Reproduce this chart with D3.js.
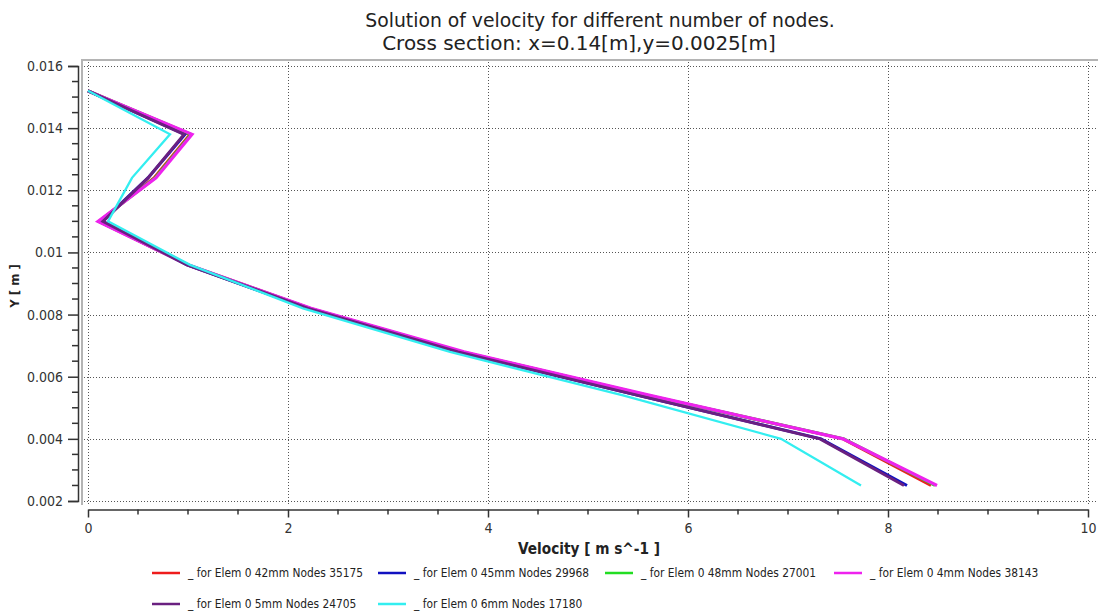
<!DOCTYPE html>
<html>
<head>
<meta charset="utf-8">
<script src="https://cdn.jsdelivr.net/npm/d3@7"></script>
<style>
  html, body { margin: 0; padding: 0; background: #fff; }
  svg { display: block; }
  .tick-label { font-family: "DejaVu Sans Condensed", "Liberation Sans", Arial, sans-serif; font-size: 14px; fill: #333; }
</style>
</head>
<body>
<svg id="chart" width="1098" height="613"></svg>
<script>
// Y positions of the sampled points along the cross section [m]
const yPositions = [0.0152, 0.0138, 0.0124, 0.0110, 0.0096, 0.0082, 0.0068, 0.0054, 0.0040, 0.0025];

// Velocity profiles [m/s], one per mesh
const velElem42 = [0, 1.02, 0.66, 0.11, 1.00, 2.22, 3.74, 5.60, 7.55, 8.43];
const velElem45 = [0, 0.97, 0.60, 0.14, 0.99, 2.20, 3.70, 5.50, 7.33, 8.19];
const velElem48 = [0, 1.03, 0.67, 0.11, 1.00, 2.22, 3.74, 5.60, 7.56, 8.47];
const velElem4  = [0, 1.04, 0.68, 0.10, 1.00, 2.23, 3.76, 5.62, 7.55, 8.49];
const velElem5  = [0, 0.96, 0.60, 0.15, 0.99, 2.20, 3.70, 5.50, 7.32, 8.16];
const velElem6  = [0, 0.82, 0.44, 0.20, 1.02, 2.15, 3.62, 5.35, 6.93, 7.73];

const seriesNames = [
  "_ for Elem 0 42mm Nodes 35175",
  "_ for Elem 0 45mm Nodes 29968",
  "_ for Elem 0 48mm Nodes 27001",
  "_ for Elem 0 4mm Nodes 38143",
  "_ for Elem 0 5mm Nodes 24705",
  "_ for Elem 0 6mm Nodes 17180"
];
const seriesValues = [velElem42, velElem45, velElem48, velElem4, velElem5, velElem6];
const seriesColors = ["#ee1c1c", "#1010c0", "#22dd22", "#ee22ee", "#6a2080", "#33eef0"];
const seriesWidths = [3, 3, 3, 3.2, 3, 2.3];

const xTicks = [0, 2, 4, 6, 8, 10];
const yTicks = [0.002, 0.004, 0.006, 0.008, 0.01, 0.012, 0.014, 0.016];

const titleLines = ["Solution of velocity for different number of nodes.", "Cross section: x=0.14[m],y=0.0025[m]"];
const xTitle = "Velocity [ m s^-1 ]";
const yTitle = "Y [ m ]";

const svg = d3.select("#chart");

// Scales: 0..10 m/s across, 0.002..0.016 m up
const x = d3.scaleLinear().domain([0, 10]).range([88, 1088]);
const y = d3.scaleLinear().domain([0.002, 0.016]).range([501, 66]);

// plot frame limits (the grid runs slightly past the axes)
const frameLeft = 82, frameTop = 60, frameRight = 1098, frameBottom = 505;

// scale a text element's font so its width fits a given length
function fitWidth(sel, width) {
  const fs = parseFloat(sel.attr("font-size"));
  const w = sel.node().getComputedTextLength();
  if (w > 0) sel.attr("font-size", (fs * width / w).toFixed(2));
  return sel;
}

// grid
const grid = svg.append("g");
grid.selectAll("line.gx").data(xTicks).join("line")
  .attr("x1", d => x(d) + 0.5).attr("x2", d => x(d) + 0.5)
  .attr("y1", frameTop + 2).attr("y2", frameBottom - 1)
  .attr("stroke", "#555").attr("stroke-width", 1).attr("stroke-dasharray", "1,2");
grid.selectAll("line.gy").data(yTicks).join("line")
  .attr("y1", d => Math.round(y(d)) + 0.5).attr("y2", d => Math.round(y(d)) + 0.5)
  .attr("x1", frameLeft + 2).attr("x2", frameRight)
  .attr("stroke", "#555").attr("stroke-width", 1).attr("stroke-dasharray", "1,2");

// frame (top and left edges)
svg.append("path")
  .attr("d", `M${frameLeft},${frameBottom} V${frameTop} H${frameRight}`)
  .attr("fill", "none").attr("stroke", "#b4b4b4").attr("stroke-width", 2);

// series lines
const line = d3.line().x(d => x(d[0])).y(d => y(d[1]));
const linesG = svg.append("g");
seriesValues.forEach((vals, i) => {
  linesG.append("path")
    .datum(vals.map((v, k) => [v, yPositions[k]]))
    .attr("d", line)
    .attr("fill", "none")
    .attr("stroke", seriesColors[i])
    .attr("stroke-width", seriesWidths[i])
    .attr("stroke-linejoin", "miter");
});

// Y axis (left, outside the frame)
const yAxis = d3.axisLeft(y).tickValues(yTicks).tickSize(10).tickPadding(5)
  .tickFormat(d => d3.format("")(+d.toFixed(3)));
const yAxisG = svg.append("g").attr("transform", "translate(78,0)").call(yAxis);
yAxisG.select(".domain").attr("stroke", "#333").attr("stroke-width", 1.5);
yAxisG.selectAll(".tick line").attr("stroke", "#333").attr("stroke-width", 1.5);
yAxisG.selectAll(".tick text").attr("class", "tick-label").attr("fill", "#333");
const yMinor = d3.range(0.002, 0.01601, 0.0005).filter(v => Math.abs(v * 500 - Math.round(v * 500)) > 1e-6);
yAxisG.selectAll("line.minor").data(yMinor).join("line")
  .attr("x1", 0).attr("x2", -6)
  .attr("y1", d => y(d)).attr("y2", d => y(d))
  .attr("stroke", "#333").attr("stroke-width", 1.5);

// X axis (below the frame)
const xAxis = d3.axisBottom(x).tickValues(xTicks).tickSize(8).tickPadding(6).tickSizeOuter(0);
const xAxisG = svg.append("g").attr("transform", "translate(0,509.5)").call(xAxis);
xAxisG.select(".domain").attr("stroke", "#333").attr("stroke-width", 1.5);
xAxisG.selectAll(".tick line").attr("stroke", "#333").attr("stroke-width", 1.5);
xAxisG.selectAll(".tick text").attr("class", "tick-label").attr("fill", "#333");
const xMinor = d3.range(0.5, 10, 0.5).filter(v => v % 2 !== 0);
xAxisG.selectAll("line.minor").data(xMinor).join("line")
  .attr("x1", d => x(d)).attr("x2", d => x(d))
  .attr("y1", 0).attr("y2", 5)
  .attr("stroke", "#333").attr("stroke-width", 1.5);

// titles
const titleFont = "'DejaVu Sans', sans-serif";
const labelFont = "'DejaVu Sans Condensed', 'DejaVu Sans', sans-serif";
fitWidth(svg.append("text").attr("x", 600).attr("y", 27).attr("text-anchor", "middle")
  .attr("font-family", titleFont).attr("font-size", 17).attr("fill", "#222")
  .text(titleLines[0]), 470);
fitWidth(svg.append("text").attr("x", 579).attr("y", 50).attr("text-anchor", "middle")
  .attr("font-family", titleFont).attr("font-size", 17).attr("fill", "#222")
  .text(titleLines[1]), 394);

fitWidth(svg.append("text").attr("x", 589).attr("y", 554).attr("text-anchor", "middle")
  .attr("font-family", labelFont).attr("font-size", 13).attr("font-weight", "bold").attr("fill", "#222")
  .text(xTitle), 142);
svg.append("text").attr("transform", "translate(19,286) rotate(-90)").attr("text-anchor", "middle")
  .attr("font-family", labelFont).attr("font-size", 13).attr("font-weight", "bold").attr("fill", "#222")
  .text(yTitle);

// legend: four columns, two rows
const legendCols = [152, 378, 605, 834];
const legendRows = [573, 604];
const legend = svg.append("g");
const probe = legend.append("text").attr("font-family", labelFont).attr("font-size", 11).text(seriesNames[0]);
const legendFontSize = 11 * 175 / probe.node().getComputedTextLength();
probe.remove();
seriesNames.forEach((name, i) => {
  const lx = legendCols[i % 4], ly = legendRows[Math.floor(i / 4)];
  legend.append("line").attr("x1", lx).attr("x2", lx + 28).attr("y1", ly).attr("y2", ly)
    .attr("stroke", seriesColors[i]).attr("stroke-width", 2.5);
  legend.append("text").attr("x", lx + 36).attr("y", ly + 4)
    .attr("font-family", labelFont).attr("font-size", legendFontSize.toFixed(2)).attr("fill", "#222")
    .text(name);
});
</script>
</body>
</html>
